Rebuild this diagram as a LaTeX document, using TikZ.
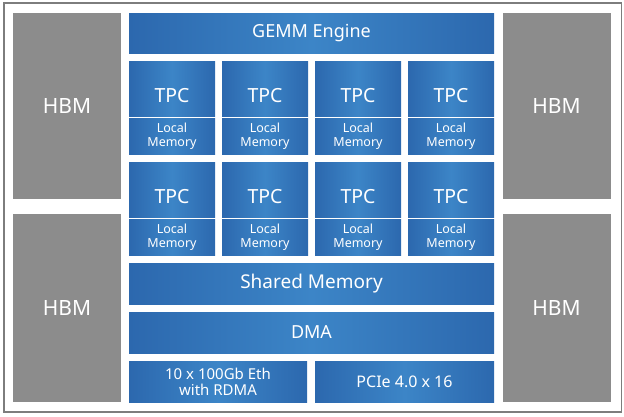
\documentclass[tikz,border=0pt]{standalone}
\usepackage{fontspec}
\setmainfont{Noto Sans}
\definecolor{blueedge}{RGB}{44,104,174}
\definecolor{bluemid}{RGB}{60,133,199}
\definecolor{hbmgray}{RGB}{140,140,140}
\definecolor{framegray}{RGB}{125,125,125}
\begin{document}
\begin{tikzpicture}[x=1pt,y=-1pt,
    blk/.style={anchor=north west,inner sep=0pt,outer sep=0pt,text=white,align=center,
      left color=blueedge,right color=blueedge,middle color=bluemid},
    hbm/.style={anchor=north west,inner sep=0pt,outer sep=0pt,text=white,fill=hbmgray,
      minimum width=108pt,font=\fontsize{21}{24}\selectfont},
    tpc/.style={blk,minimum width=86pt,minimum height=55pt,text height=28pt,text depth=0pt,
      font=\fontsize{19.5}{22}\selectfont},
    lmem/.style={blk,minimum width=86pt,minimum height=36pt,font=\fontsize{12.5}{13.5}\selectfont},
    wide/.style={blk,minimum width=365pt,minimum height=41pt}]
      \useasboundingbox (0,0) rectangle (624,416);
      \node [draw=framegray,line width=1.5pt,anchor=north west,minimum width=617.5pt,minimum height=409pt,inner sep=0pt] (frame) at (3,2) {};
      \node [hbm,minimum height=186pt] (hbmTL) at (13,13) {HBM};
      \node [hbm,minimum height=188pt] (hbmBL) at (13,214) {HBM};
      \node [hbm,minimum height=186pt] (hbmTR) at (502.5,13) {HBM};
      \node [hbm,minimum height=188pt] (hbmBR) at (502.5,214) {HBM};
      \node [wide,minimum height=40pt,font=\fontsize{18}{20}\selectfont] (gemm) at (129,13) {GEMM Engine};
      \node [tpc] (tpcA) at (129,61) {TPC};
      \node [tpc] (tpcB) at (222,61) {TPC};
      \node [tpc] (tpcC) at (315,61) {TPC};
      \node [tpc] (tpcD) at (408,61) {TPC};
      \node [lmem] (lmA) at (129,118) {Local\\Memory};
      \node [lmem] (lmB) at (222,118) {Local\\Memory};
      \node [lmem] (lmC) at (315,118) {Local\\Memory};
      \node [lmem] (lmD) at (408,118) {Local\\Memory};
      \node [tpc] (tpcE) at (129,162) {TPC};
      \node [tpc] (tpcF) at (222,162) {TPC};
      \node [tpc] (tpcG) at (315,162) {TPC};
      \node [tpc] (tpcH) at (408,162) {TPC};
      \node [lmem] (lmE) at (129,219) {Local\\Memory};
      \node [lmem] (lmF) at (222,219) {Local\\Memory};
      \node [lmem] (lmG) at (315,219) {Local\\Memory};
      \node [lmem] (lmH) at (408,219) {Local\\Memory};
      \node [wide,font=\fontsize{19}{21}\selectfont] (shared) at (129,263) {Shared Memory};
      \node [wide,font=\fontsize{18}{20}\selectfont] (dma) at (129,312) {DMA};
      \node [blk,minimum width=178pt,minimum height=41pt,font=\fontsize{15}{16}\selectfont] (eth) at (129,361) {10 x 100Gb Eth\\with RDMA};
      \node [blk,minimum width=179pt,minimum height=41pt,font=\fontsize{16}{18}\selectfont] (pcie) at (315,361) {PCIe 4.0 x 16};
    \end{tikzpicture}
\end{document}
